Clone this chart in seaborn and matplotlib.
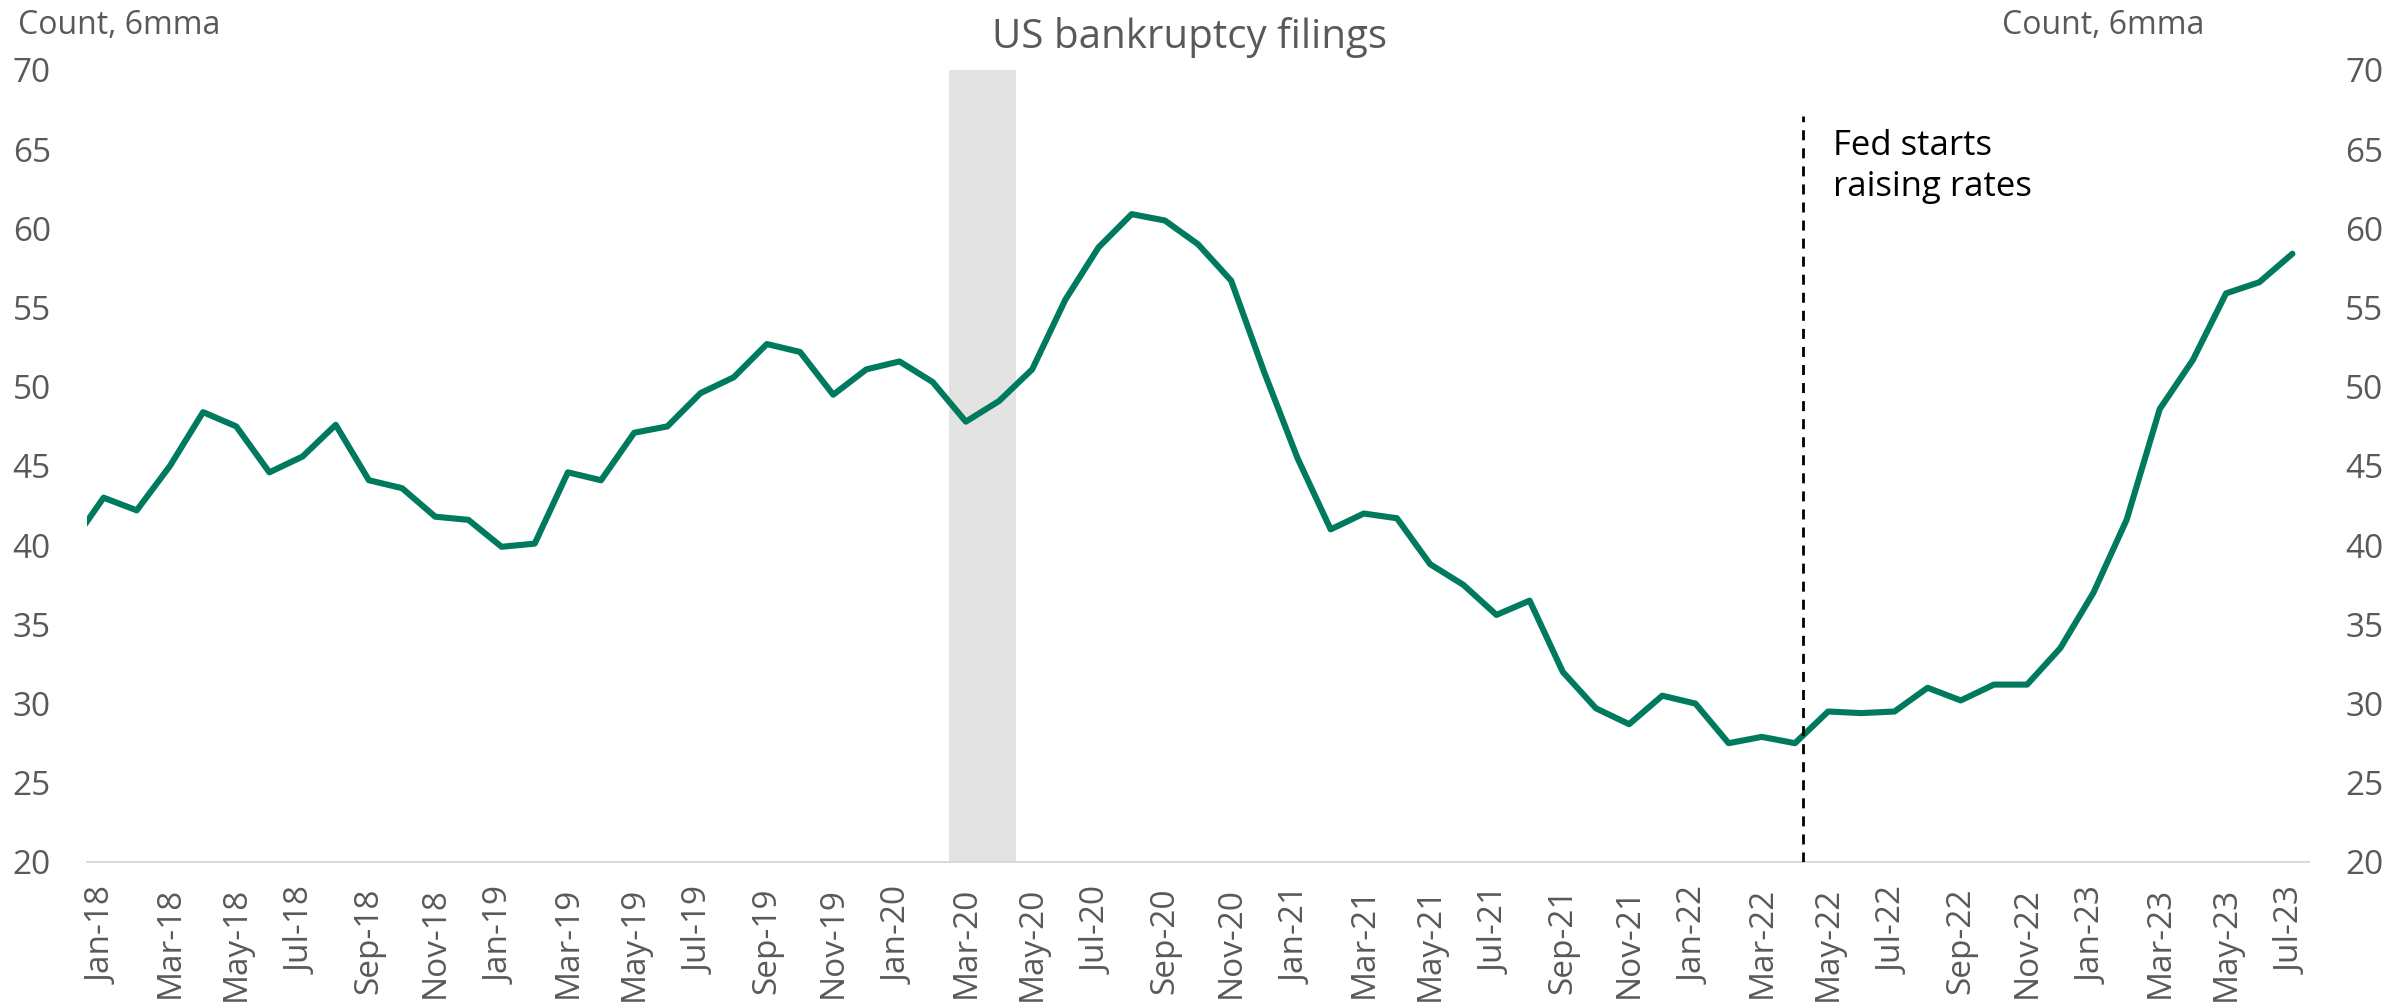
import numpy as np
import pandas as pd
import seaborn as sns
import matplotlib.pyplot as plt

# Monthly bankruptcy filings, 6-month moving average (Dec-17 only feeds the clipped first segment)
months = pd.date_range("2017-12-01", "2023-07-01", freq="MS").strftime("%b-%y").tolist()
filings = [
    40.0,
    43.0, 42.2, 45.0, 48.4, 47.5, 44.6, 45.6, 47.6, 44.1, 43.6, 41.8, 41.6,
    39.9, 40.1, 44.6, 44.1, 47.1, 47.5, 49.6, 50.6, 52.7, 52.2, 49.5, 51.1,
    51.6, 50.3, 47.8, 49.1, 51.1, 55.5, 58.8, 60.9, 60.5, 59.0, 56.7, 50.9,
    45.5, 41.0, 42.0, 41.7, 38.8, 37.5, 35.6, 36.5, 32.0, 29.7, 28.7, 30.5,
    30.0, 27.5, 27.9, 27.5, 29.5, 29.4, 29.5, 31.0, 30.2, 31.2, 31.2, 33.5,
    37.0, 41.6, 48.6, 51.7, 55.9, 56.6, 58.4,
]
recession = ["Mar-20", "Apr-20"]
fed_month = "Apr-22"
y_ticks = [20, 25, 30, 35, 40, 45, 50, 55, 60, 65, 70]

df = pd.DataFrame({"pos": np.arange(len(months)), "month": months, "filings": filings})

grey = "#595959"
sns.set_style("white")
plt.rcParams["font.family"] = ["Open Sans", "DejaVu Sans"]

fig = plt.figure(figsize=(23.86, 10.02), dpi=100)
ax = fig.add_axes([87 / 2386, 1 - 862 / 1002, (2309 - 87) / 2386, (862 - 70) / 1002])

# recession shading
r0 = months.index(recession[0])
r1 = months.index(recession[-1])
ax.axvspan(r0 - 0.5, r1 + 0.5, color="#e3e3e3", lw=0, zorder=0)

sns.lineplot(data=df, x="pos", y="filings", color="#007a5e", linewidth=4.4, ax=ax, zorder=3)

# Fed line
fx = months.index(fed_month) + 0.25
ax.plot([fx, fx], [20, 67.1], color="black", lw=2, dashes=(3.6, 2.9), zorder=4)
ax.text(fx + 0.9, 66.3, "Fed starts\nraising rates", fontsize=25, color="black",
        va="top", ha="left", linespacing=1.3)

ax.set_xlim(0.5, len(months) - 0.5)
ax.set_ylim(20, 70)
ax.set_yticks(y_ticks)
ax.set_yticklabels([str(t) for t in y_ticks])

# ticks at category boundaries, labels at centres
ax.set_xticks(np.arange(0.5, len(months) - 1, 2))
ax.set_xticklabels([])
ax.set_xticks(np.arange(1, len(months), 2), minor=True)
ax.set_xticklabels(months[1::2], minor=True, rotation=90, fontsize=24, color=grey)
ax.tick_params(axis="x", which="major", length=8.6, width=1.44, color="#d9d9d9", direction="out")
ax.tick_params(axis="x", which="minor", length=0, pad=18)
ax.tick_params(axis="y", length=0, labelsize=24, labelcolor=grey, labelright=True, pad=26)

for s in ["top", "left", "right"]:
    ax.spines[s].set_visible(False)
ax.spines["bottom"].set_color("#d9d9d9")
ax.spines["bottom"].set_linewidth(1.44)
ax.set_xlabel("")
ax.set_ylabel("")

fig.text(18 / 2386, 1 - 25 / 1002, "Count, 6mma", fontsize=23, color=grey, va="center", ha="left")
fig.text(2204 / 2386, 1 - 25 / 1002, "Count, 6mma", fontsize=23, color=grey, va="center", ha="right")
fig.text(1190 / 2386, 1 - 37 / 1002, "US bankruptcy filings", fontsize=29, color=grey, va="center", ha="center")

fig.savefig("out.png", dpi=100)
